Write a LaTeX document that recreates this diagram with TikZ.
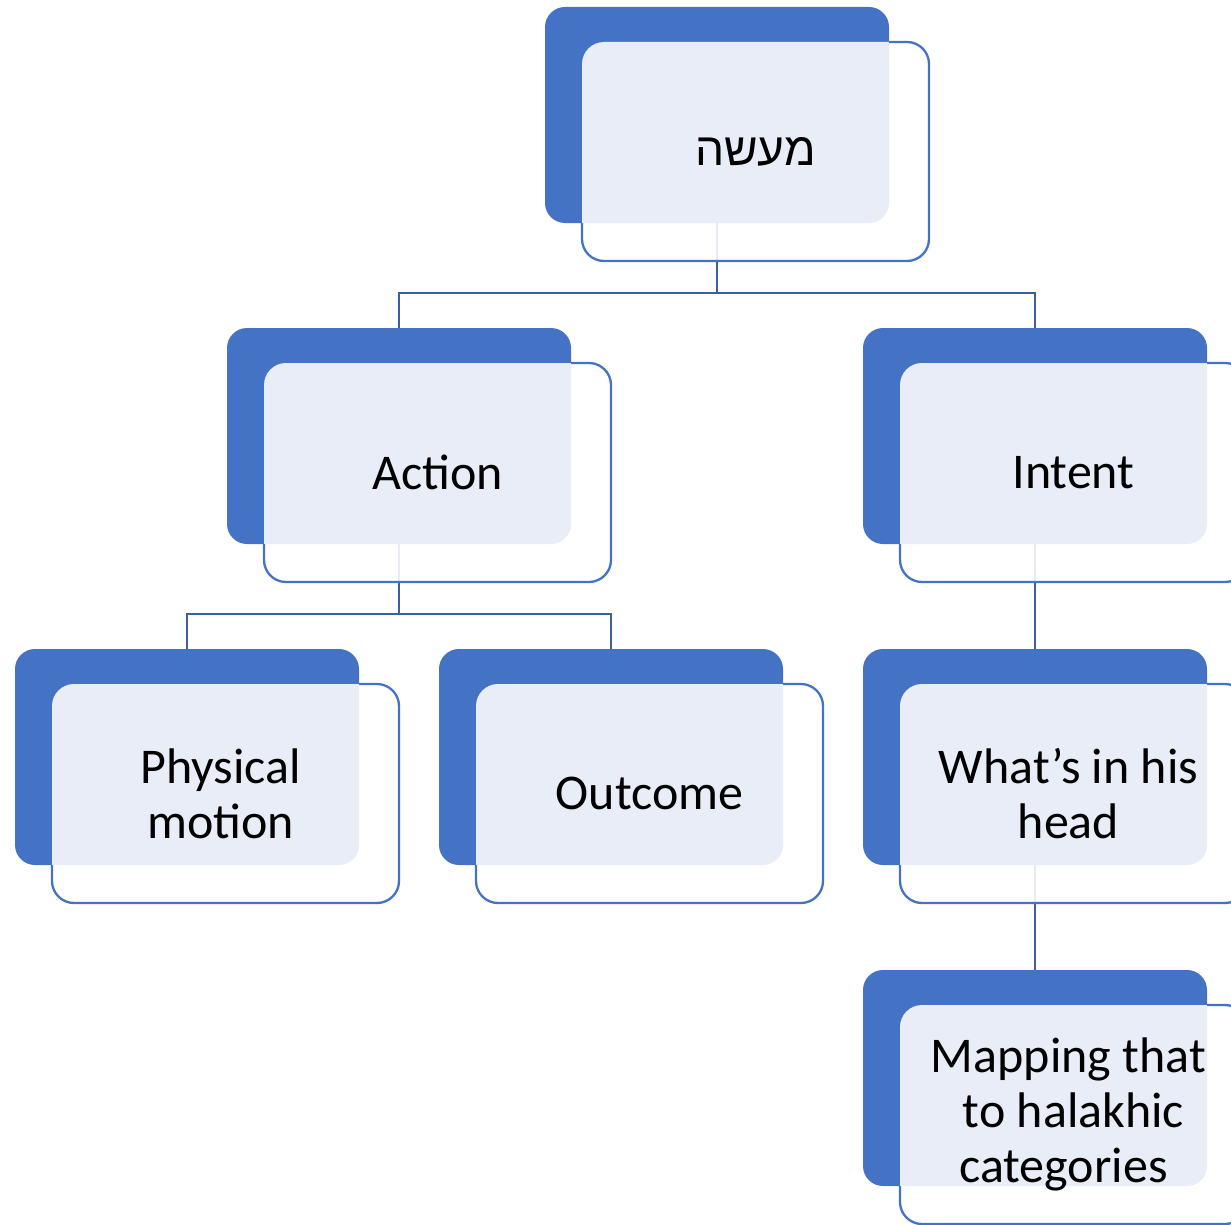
\documentclass[tikz,border=0pt]{standalone}
\usepackage{fontspec}
\setmainfont{Carlito}
\newfontfamily\hebfont[Script=Hebrew]{Liberation Sans}
\TeXXeTstate=1
\definecolor{backblue}{RGB}{68,114,196}
\definecolor{lineblue}{RGB}{68,114,196}
\definecolor{connblue}{RGB}{59,94,168}
\newcommand{\lft}{\hspace*{10pt}}
\begin{document}
\begin{tikzpicture}[x=1pt,y=-1pt,
  backbox/.style={fill=backblue, rounded corners=20pt, minimum width=344pt, minimum height=216pt, anchor=north west, inner sep=0pt, outer sep=0pt},
  frontbox/.style={fill=white, fill opacity=0.88, text opacity=1, rounded corners=22pt, minimum width=347pt, minimum height=219pt, anchor=north west, inner sep=0pt, outer sep=0pt, align=center, font=\fontsize{50}{55}\selectfont},
  outline/.style={draw=lineblue, line width=2.3pt, rounded corners=22pt},
  conn/.style={draw=connblue, line width=2.6pt}
]
\clip (0,0) rectangle (1231,1225);
% back boxes
\node[backbox] (tb) at (545,7) {};
\node[backbox] (ab) at (227,328) {};
\node[backbox] (ib) at (863,328) {};
\node[backbox] (pb) at (15,649) {};
\node[backbox] (ob) at (439,649) {};
\node[backbox] (wb) at (863,649) {};
\node[backbox] (mb) at (863,970) {};
% connectors
\coordinate (j1) at (717,293);
\coordinate (j2) at (399,614);
\draw[conn] (tb.south) -- (j1) -| (ab.north);
\draw[conn] (j1) -| (ib.north);
\draw[conn] (ab.south) -- (j2) -| (pb.north);
\draw[conn] (j2) -| (ob.north);
\draw[conn] (ib.south) -- (wb.north);
\draw[conn] (wb.south) -- (mb.north);
% front boxes with text
\node[frontbox] (tf) at (582,42) {{\fontsize{46}{55}\hebfont\beginR מעשה\endR}};
\node[frontbox] (af) at (264,363) {Action};
\node[frontbox] (if) at (900,363) {Intent};
\node[frontbox] (pf) at (52,684) {Physical\lft\\motion\lft};
\node[frontbox] (of) at (476,684) {Outcome};
\node[frontbox] (wf) at (900,684) {What’s in his\lft\\head\lft};
\node[frontbox] (mf) at (900,1005) {Mapping that\lft\\to halakhic\lft\\categories\lft\lft};
% outlines (hidden behind back boxes)
\foreach \b/\f in {tb/tf,ab/af,ib/if,pb/pf,ob/of,wb/wf,mb/mf}{
  \draw[outline] (\b.east |- \f.north) -- (\f.north east) -- (\f.south east) -- (\f.south west) -- (\f.west |- \b.south);
}
\end{tikzpicture}
\end{document}
